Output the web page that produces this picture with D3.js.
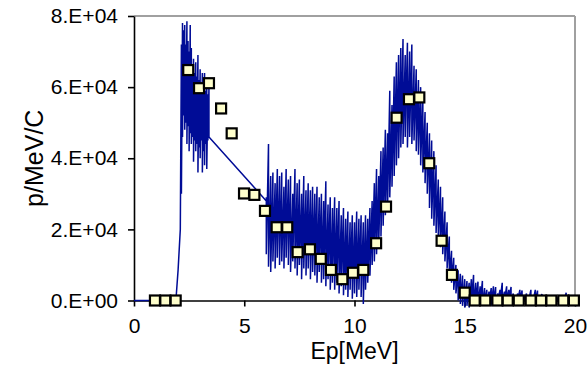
<!DOCTYPE html>
<html><head><meta charset="utf-8">
<script src="https://cdn.jsdelivr.net/npm/d3@7/dist/d3.min.js"></script>
<style>body{margin:0;background:#fff}svg{display:block}</style>
</head><body>
<svg id="c" width="587" height="378"></svg>
<script>
// ---- data (values in units of 1e4 p/MeV/C) ----
const xTicks = [0, 5, 10, 15, 20];
const yTicks = [0, 2, 4, 6, 8];
const yTickLabels = ["0.E+00", "2.E+04", "4.E+04", "6.E+04", "8.E+04"];
const xTitle = "Ep[MeV]";
const yTitle = "p/MeV/C";

// spectrum: baseline and onset
const leadE = [0, 1.9, 2.0, 2.1];
const leadV = [0, 0, 0.86, 2.0];
// first noisy band (peak at low energy): upper / lower excursions
const band1E  = [2.15,2.2,2.25,2.3,2.35,2.4,2.45,2.5,2.55,2.6,2.65,2.7,2.75,2.8,2.85,2.9,2.95,3.0,3.05,3.1,3.15,3.2,3.25,3.3,3.35,3.4];
const band1Hi = [7.2,7.8,7.6,7.75,7.2,7.85,7.3,7.0,7.75,7.1,6.6,6.8,6.4,6.7,6.3,6.9,6.2,6.5,6.1,6.4,6.0,6.4,5.9,6.1,5.8,6.0];
const band1Lo = [3.0,4.6,5.2,4.8,5.0,4.4,4.9,4.2,4.7,4.4,4.6,3.9,4.5,4.2,4.4,3.6,4.3,4.0,4.5,3.6,4.2,3.8,4.4,3.7,4.5,4.6];
// data gap drawn as straight segment
const gapE = [3.4, 6.0];
const gapV = [4.6, 2.8];
// second noisy band (valley, main peak, tail)
const band2E = [6.0,6.1,6.2,6.3,6.4,6.5,6.6,6.7,6.8,6.9,7.0,7.1,7.2,7.3,7.4,7.5,7.6,7.7,7.8,7.9,
  8.0,8.1,8.2,8.3,8.4,8.5,8.6,8.7,8.8,8.9,9.0,9.1,9.2,9.3,9.4,9.5,9.6,9.7,9.8,9.9,
  10.0,10.1,10.2,10.3,10.4,10.5,10.6,10.7,10.8,10.9,11.0,11.1,11.2,11.3,11.4,11.5,11.6,11.7,11.8,11.9,
  12.0,12.1,12.2,12.3,12.4,12.5,12.6,12.7,12.8,12.9,13.0,13.1,13.2,13.3,13.4,13.5,13.6,13.7,13.8,13.9,
  14.0,14.1,14.2,14.3,14.4,14.5,14.6,14.7,14.8,14.9,15.0,15.1,15.2,15.3,15.4,15.5,15.6,15.7,15.8,15.9,
  16.0,16.1,16.2,16.3,16.4,16.5,16.6,16.7,16.8,16.9,17.0,17.1,17.2,17.3,17.4,17.5,17.6,17.7,17.8,17.9,
  18.0,18.1,18.2,18.3,18.4,18.5,18.6,18.7,18.8,18.9,19.0,19.1,19.2,19.3,19.4,19.5,19.6,19.7,19.8,19.9,20.0];
const band2Hi = [2.9,4.4,3.5,3.6,3.3,3.7,3.5,3.6,3.2,3.7,3.4,3.5,3.0,3.7,3.3,3.4,3.0,3.5,3.1,3.3,
  3.1,3.2,3.0,3.2,2.9,3.0,2.8,3.35,2.7,2.9,2.6,2.9,2.6,2.8,2.4,2.6,2.3,2.5,2.2,2.4,
  2.2,2.5,2.3,2.4,2.2,2.4,2.3,2.6,2.8,3.3,3.7,3.5,4.2,4.3,4.8,4.7,5.9,5.5,6.3,6.7,
  6.9,7.1,7.35,6.9,7.25,7.0,7.2,6.6,6.5,6.2,6.0,5.8,5.3,5.0,4.7,4.5,4.2,3.8,3.4,3.2,
  2.9,2.5,2.2,1.8,1.4,1.2,1.0,0.85,0.75,0.7,0.6,0.55,0.5,0.6,0.72,0.5,0.53,0.4,0.55,0.35,
  0.3,0.25,0.35,0.4,0.38,0.2,0.3,0.5,0.25,0.4,0.3,0.38,0.2,0.15,0.2,0.3,0.28,0.15,0.2,0.12,
  0.3,0.15,0.3,0.28,0.12,0.18,0.1,0.15,0.1,0.12,0.1,0.14,0.08,0.12,0.1,0.12,0.22,0.1,0.12,0.08,0.1];
const band2Lo = [1.3,0.95,0.8,1.1,0.9,1.2,1.0,1.1,0.9,1.2,1.0,0.8,1.1,0.9,0.7,1.0,0.6,0.9,0.7,0.9,
  0.6,0.8,0.7,0.5,0.8,0.5,0.6,0.4,0.6,0.3,0.5,0.3,0.5,0.2,0.4,0.15,0.3,0.1,0.3,0.05,
  0.2,0.1,0.3,0.1,-0.1,0.3,0.5,0.7,1.0,1.1,1.3,1.6,1.8,2.1,2.4,2.6,2.9,3.2,3.5,3.8,
  4.0,4.3,4.4,4.6,4.3,4.6,4.4,4.5,4.2,4.1,3.8,3.6,3.3,3.0,2.6,2.3,2.1,1.9,1.7,1.5,
  1.3,1.1,0.9,0.7,0.5,0.3,0.2,0.0,-0.1,-0.15,-0.2,-0.15,-0.2,-0.1,-0.15,-0.1,-0.15,-0.1,-0.15,-0.05,
  -0.1,-0.05,-0.15,-0.05,-0.1,0,0,0,0,0.02,0,0,0.02,0,0,0.02,0,0,0,0,
  0,0,0,0,0,0,0,0,0,0,0,0,0,0,0,0,0,0,0,0,0];

// square markers
const markE = [0.95,1.42,1.89,2.46,2.95,3.40,3.95,4.43,4.99,5.46,5.94,6.47,6.95,7.42,7.98,8.47,8.93,9.45,9.93,10.40,
  10.98,11.43,11.91,12.47,12.94,13.39,13.95,14.42,15.00,15.45,15.93,16.48,16.95,17.45,17.99,18.46,18.93,19.47,19.95];
const markV = [0,0,0,6.48,5.97,6.11,5.40,4.70,3.01,2.97,2.52,2.06,2.06,1.36,1.44,1.17,0.86,0.60,0.78,0.86,
  1.61,2.64,5.14,5.66,5.71,3.86,1.68,0.72,0.22,0,0,0,0,0,0,0,0,0,0];

// ---- drawing ----
const svg = d3.select("#c");
const L = 134, R = 575, T = 16, B = 300.5;
const x = d3.scaleLinear().domain([0, 20]).range([L, R]);
const y = d3.scaleLinear().domain([0, 8]).range([B, T]);
const font = "'Liberation Sans', Arial, sans-serif";

// plot border (top / right, grey)
svg.append("line").attr("x1", L).attr("x2", R).attr("y1", T).attr("y2", T)
  .attr("stroke", "#a0a0a0").attr("stroke-width", 2);
svg.append("line").attr("x1", R).attr("x2", R).attr("y1", T).attr("y2", B)
  .attr("stroke", "#a0a0a0").attr("stroke-width", 2);

const yAxis = svg.append("g").attr("transform", `translate(${L},0)`)
  .call(d3.axisLeft(y).tickValues(yTicks).tickFormat((d, i) => yTickLabels[i])
    .tickSizeInner(6).tickSizeOuter(0).tickPadding(10));
const xAxis = svg.append("g").attr("transform", `translate(0,${B})`)
  .call(d3.axisBottom(x).tickValues(xTicks).tickFormat(d3.format("d"))
    .tickSizeInner(6).tickSizeOuter(0).tickPadding(12));
[yAxis, xAxis].forEach(g => {
  g.select(".domain").attr("stroke", "#000").attr("stroke-width", 1.6);
  g.selectAll(".tick line").attr("stroke", "#000").attr("stroke-width", 1.6);
  g.selectAll(".tick text").attr("fill", "#000").style("font-family", font).style("font-size", "21px");
});

// spectrum path
const pts = [];
leadE.forEach((e, i) => pts.push([e, leadV[i]]));
band1E.forEach((e, i) => { pts.push([e, band1Hi[i]]); pts.push([e, band1Lo[i]]); });
gapE.forEach((e, i) => pts.push([e, gapV[i]]));
band2E.forEach((e, i) => { pts.push([e, band2Hi[i]]); pts.push([e, band2Lo[i]]); });
svg.append("path")
  .attr("d", d3.line().x(d => x(d[0])).y(d => y(d[1]))(pts))
  .attr("fill", "none").attr("stroke", "#000c96").attr("stroke-width", 1.5)
  .attr("stroke-linejoin", "bevel");

// markers
svg.append("g").selectAll("rect").data(markE).join("rect")
  .attr("x", (d) => x(d) - 5).attr("y", (d, i) => y(markV[i]) - 5)
  .attr("width", 10).attr("height", 10)
  .attr("fill", "#ffffcc").attr("stroke", "#000").attr("stroke-width", 2.2);

// titles
svg.append("text").attr("x", (L + R) / 2).attr("y", 359).attr("text-anchor", "middle")
  .style("font-family", font).style("font-size", "23px").text(xTitle);
svg.append("text").attr("transform", `translate(43,${(T + B) / 2}) rotate(-90)`)
  .attr("text-anchor", "middle")
  .style("font-family", font).style("font-size", "25px").text(yTitle);
</script>
</body></html>
